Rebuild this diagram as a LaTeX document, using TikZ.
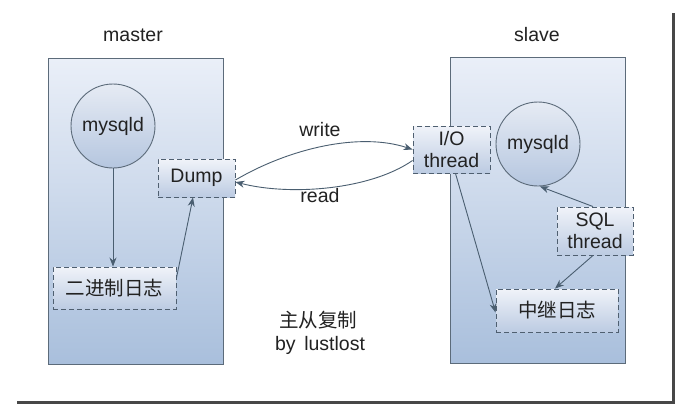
\documentclass[tikz,border=0pt]{standalone}
\usepackage{fontspec}
\setmainfont{Liberation Sans}
\newfontfamily\cjk{Noto Sans CJK SC}
\usetikzlibrary{arrows.meta,calc}
\definecolor{edge}{HTML}{5C6B7A}
\definecolor{dashc}{HTML}{4F5F70}
\definecolor{arr}{HTML}{4A5E70}
\definecolor{txt}{HTML}{222222}
\definecolor{bigtop}{HTML}{EAEFF8}
\definecolor{bigbot}{HTML}{A9BFDC}
\definecolor{smtop}{HTML}{F0F3F9}
\definecolor{smbot}{HTML}{BCCBE2}
\definecolor{ctop}{HTML}{E6EBF4}
\definecolor{cbot}{HTML}{B5C6DF}
\tikzset{
  hostbox/.style={draw=edge, line width=0.9pt, top color=bigtop, bottom color=bigbot, minimum width=175pt, minimum height=306pt, inner sep=0pt},
  procnode/.style={circle, draw=edge, line width=0.9pt, top color=ctop, bottom color=cbot, minimum size=84pt, inner sep=0pt, text=txt, font=\fontsize{19.5}{22}\selectfont},
  thr/.style={draw=dashc, dash pattern=on 5pt off 3pt, line width=0.9pt, top color=smtop, bottom color=smbot, inner sep=0pt, text=txt, align=center, font=\fontsize{19.5}{22}\selectfont},
  lbl/.style={text=txt, font=\fontsize{19.5}{22}\selectfont, inner sep=0pt},
  conn/.style={draw=arr, line width=0.9pt, -{Stealth[length=9pt,width=7pt]}},
}
\begin{document}
\begin{tikzpicture}[x=1pt,y=-1pt]
\useasboundingbox (0,0) rectangle (687,415);
\fill[white] (0,0) rectangle (687,415);
% shadow frame
\draw[line width=3pt, color=black!72] (673,13) -- (673,402) -- (17,402);
% host boxes
\node[hostbox] (master) at (135.5,211) {};
\node[hostbox] (slave) at (537.5,210) {};
\node[lbl] (mlab) at (133,35) {master};
\node[lbl] (slab) at (537,35) {slave};
% master side
\node[procnode] (m1) at (113,126) {mysqld};
\node[thr, minimum width=77pt, minimum height=38pt] (dump) at (196.5,178) {Dump};
\node[thr, minimum width=123pt, minimum height=42pt, font=\fontsize{19.5}{22}\cjk] (bin) at (114.5,288) {二进制日志};
% slave side
\node[thr, minimum width=77pt, minimum height=47pt] (io) at (451.5,149.5) {I/O\\thread};
\node[procnode] (m2) at (538,144) {mysqld};
\node[thr, minimum width=76pt, minimum height=48pt] (sql) at (595,231) {SQL\\thread};
\node[thr, minimum width=122pt, minimum height=43pt, font=\fontsize{19.5}{22}\cjk] (relay) at (557,310.5) {中继日志};
% connectors
\draw[conn] (m1.south) -- (m1.south |- bin.north);
\draw[conn] ($(bin.east)+(0,-10)$) -- ($(dump.south)+(-3.5,0)$);
\draw[conn] ($(dump.east)+(0,2)$) .. controls (290,148) and (360,132) .. (io.west);
\draw[conn] ($(io.west)+(0,11)$) .. controls (370,190) and (290,196) .. ($(dump.east)+(0,4)$);
\draw[conn] ($(io.south)+(4,0)$) -- ($(relay.west)+(0,2)$);
\draw[conn] ($(sql.north)+(-2,0)$) -- ($(m2.south)+(2,0)$);
\draw[conn] ($(sql.south)+(-2,0)$) -- ($(relay.north)+(-2,0)$);
% labels
\node[lbl] (wlab) at (320,130) {write};
\node[lbl] (rlab) at (320,196) {read};
\node[lbl, font=\fontsize{19.5}{22}\cjk] (title) at (318,320) {主从复制};
\node[lbl] (by) at (320,345) {by\, lustlost};
\end{tikzpicture}
\end{document}
